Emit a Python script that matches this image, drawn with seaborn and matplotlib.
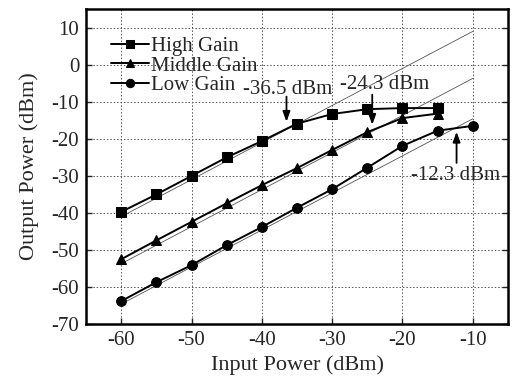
import pandas as pd
import numpy as np
import matplotlib
matplotlib.use("Agg")
import matplotlib.pyplot as plt
import seaborn as sns

# measured output power of the amplifier in three gain modes
input_power = [-60, -55, -50, -45, -40, -35, -30, -25, -20, -15]
high_gain = [-39.7, -35.0, -30.0, -25.0, -20.6, -15.9, -13.3, -12.0, -11.7, -11.7]
middle_gain = [-52.5, -47.4, -42.4, -37.4, -32.5, -27.9, -23.0, -18.2, -14.4, -13.2]
low_input = [-60, -55, -50, -45, -40, -35, -30, -25, -20, -15, -10]
low_gain = [-63.8, -58.7, -54.1, -48.7, -43.8, -38.6, -33.6, -27.8, -21.9, -17.8, -16.5]

# ideal linear-gain reference lines (end points)
ideal_x = [-60, -10]
ideal_high = [-41.0, 9.0]
ideal_middle = [-53.7, -3.7]
ideal_low = [-64.6, -14.6]

# P1dB annotations
p1db_labels = ["-36.5 dBm", "-24.3 dBm", "-12.3 dBm"]
p1db_x = [-36.5, -24.3, -12.3]
arrow_tail = [-8.6, -8.1, -26.5]
arrow_head = [-15.4, -16.2, -18.1]
text_x = [-36.4, -22.5, -12.5]
text_y = [-6.7, -5.4, -29.8]

sns.set_style("ticks")
plt.rcParams["font.family"] = ["Liberation Serif", "DejaVu Serif"]
plt.rcParams["axes.unicode_minus"] = False

df = pd.concat([
    pd.DataFrame({"Pin": input_power, "Pout": high_gain, "Mode": "High Gain"}),
    pd.DataFrame({"Pin": input_power, "Pout": middle_gain, "Mode": "Middle Gain"}),
    pd.DataFrame({"Pin": low_input, "Pout": low_gain, "Mode": "Low Gain"}),
])
ideal = pd.concat([
    pd.DataFrame({"Pin": ideal_x, "Pout": ideal_high, "Mode": "h"}),
    pd.DataFrame({"Pin": ideal_x, "Pout": ideal_middle, "Mode": "m"}),
    pd.DataFrame({"Pin": ideal_x, "Pout": ideal_low, "Mode": "l"}),
])

fig = plt.figure(figsize=(5.13, 3.83), dpi=100)
ax = fig.add_axes([0.168, 0.154, 0.822, 0.822])

sns.lineplot(data=ideal, x="Pin", y="Pout", units="Mode", estimator=None,
             color="#555555", linewidth=0.6, ax=ax, legend=False)
sns.lineplot(data=df, x="Pin", y="Pout", style="Mode",
             markers={"High Gain": "s", "Middle Gain": "^", "Low Gain": "o"},
             dashes=False, color="black", linewidth=1.4, markersize=7,
             markeredgecolor="black", ax=ax, sort=False)

ax.set_xlim(-65, -5)
ax.set_ylim(-70, 15)
ax.set_xticks(np.arange(-60, 0, 10))
ax.set_yticks(np.arange(-70, 11, 10))
ax.grid(True, linestyle=(0, (1.5, 2)), color="#555555", linewidth=0.7)
ax.tick_params(direction="in", length=4, width=1, labelsize=15, right=True, top=False, pad=5)
for s in ax.spines.values():
    s.set_linewidth(1.8)
    s.set_color("black")

ax.set_xlabel("Input Power (dBm)", fontsize=16, labelpad=4)
ax.set_ylabel("Output Power (dBm)", fontsize=16, labelpad=9)

handles, labels = ax.get_legend_handles_labels()
for h in handles:
    h.set_markersize(6)
ax.legend(handles, labels, loc="upper left", frameon=False, fontsize=15,
          handlelength=1.8, handletextpad=0.1, borderaxespad=0.0,
          labelspacing=0.0, bbox_to_anchor=(0.04, 0.94))

# annotation arrows and labels
for lab, x, y0, y1, tx, ty in zip(p1db_labels, p1db_x, arrow_tail, arrow_head, text_x, text_y):
    ax.annotate("", xy=(x, y1), xytext=(x, y0),
                arrowprops=dict(arrowstyle="-|>,head_length=0.6,head_width=0.22",
                                color="black", lw=1.3, shrinkA=0, shrinkB=0))
    ax.text(tx, ty, lab, ha="center", va="center", fontsize=15)

fig.savefig("out.png", dpi=100)
